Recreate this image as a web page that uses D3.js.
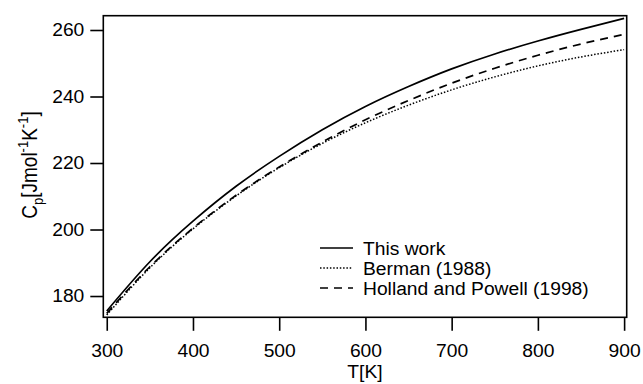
<!DOCTYPE html>
<html>
<head>
<meta charset="utf-8">
<script src="https://cdn.jsdelivr.net/npm/d3@7"></script>
<style>
    body { margin: 0; background: #fff; }
    text { font-family: "Liberation Sans", Arial, sans-serif; fill: #000; }
</style>
</head>
<body>
<script>
"use strict";

// data
const temps = [300, 350, 400, 450, 500, 550, 600, 650, 700, 750, 800, 850, 900];
const thisWork = [175.5, 190.3, 202.5, 213.0, 222.0, 230.0, 237.0, 243.0, 248.3, 252.8, 256.7, 260.2, 263.5];
const berman = [174.3, 188.5, 200.2, 210.1, 218.6, 225.9, 232.1, 237.4, 242.0, 245.9, 249.2, 251.9, 254.1];
const hollandPowell = [174.8, 188.8, 200.4, 210.3, 218.8, 226.3, 233.0, 238.8, 244.0, 248.5, 252.4, 255.8, 258.7];
const seriesNames = ['This work', 'Berman (1988)', 'Holland and Powell (1998)'];
const xTicks = [300, 400, 500, 600, 700, 800, 900];
const yTicks = [180, 200, 220, 240, 260];

// plot box
const box = {left: 103.3, right: 626.7, top: 15.7, bottom: 317.3};
const W = 643, H = 384;
const stretch = 1.07; // text in the figure is a bit wide

const svg = d3.select('body')
    .append('svg')
    .attr('width', W)
    .attr('height', H);

const x = d3.scaleLinear()
    .domain([296, 903])
    .range([box.left, box.right]);
const y = d3.scaleLinear()
    .domain([173.6, 264.3])
    .range([box.bottom, box.top]);

// axes, ticks outside the box
const xAxis = svg.append('g')
    .attr('transform', 'translate(0,' + box.bottom + ')')
    .call(d3.axisBottom(x).tickValues(xTicks).tickSize(13.5).tickPadding(13).tickFormat(d3.format('d')));
const yAxis = svg.append('g')
    .attr('transform', 'translate(' + box.left + ',0)')
    .call(d3.axisLeft(y).tickValues(yTicks).tickSize(13).tickPadding(6).tickFormat(d3.format('d')));

[xAxis, yAxis].forEach((g) => {
    g.select('.domain').remove();
    g.selectAll('line').attr('stroke', '#000').attr('stroke-width', 1.6);
    g.selectAll('text')
        .style('font-family', '"Liberation Sans", Arial, sans-serif')
        .style('font-size', '18px')
        .attr('fill', '#000')
        .attr('transform', 'scale(' + stretch + ',1)');
});
yAxis.selectAll('text').attr('x', -19 / stretch);

// frame
svg.append('rect')
    .attr('x', box.left)
    .attr('y', box.top)
    .attr('width', box.right - box.left)
    .attr('height', box.bottom - box.top)
    .attr('fill', 'none')
    .attr('stroke', '#000')
    .attr('stroke-width', 1.6);

// curves
const styles = [
    {vals: thisWork, dash: null, sw: 1.7},
    {vals: berman, dash: '1.5,1.8', sw: 1.5},
    {vals: hollandPowell, dash: '8,6', sw: 1.7}
];

const line = d3.line()
    .x((d) => x(d[0]))
    .y((d) => y(d[1]))
    .curve(d3.curveNatural);

styles.forEach((s) => {
    svg.append('path')
        .datum(temps.map((t, i) => [t, s.vals[i]]))
        .attr('d', line)
        .attr('fill', 'none')
        .attr('stroke', '#000')
        .attr('stroke-width', s.sw)
        .attr('stroke-dasharray', s.dash);
});

// legend
const legend = svg.append('g').attr('transform', 'translate(320,248)');
seriesNames.forEach((name, i) => {
    legend.append('line')
        .attr('x1', 0).attr('x2', 33)
        .attr('y1', i * 20).attr('y2', i * 20)
        .attr('stroke', '#000')
        .attr('stroke-width', styles[i].sw)
        .attr('stroke-dasharray', styles[i].dash);
    legend.append('text')
        .attr('transform', 'translate(43,' + (i * 20 + 6.5) + ') scale(' + stretch + ',1)')
        .style('font-size', '18px')
        .text(name);
});

// axis titles
svg.append('text')
    .attr('transform', 'translate(' + (box.left + box.right) / 2 + ',378) scale(' + stretch + ',1)')
    .attr('text-anchor', 'middle')
    .style('font-size', '18px')
    .text('T[K]');

const ylab = svg.append('text')
    .attr('transform', 'translate(37,165) rotate(-90) scale(1,1.12)')
    .attr('text-anchor', 'middle')
    .style('font-size', '19px');
ylab.append('tspan').text('C');
ylab.append('tspan').attr('dy', 5).style('font-size', '13px').text('p');
ylab.append('tspan').attr('dy', -5).text('[Jmol');
ylab.append('tspan').attr('dy', -8).style('font-size', '13px').text('-1');
ylab.append('tspan').attr('dy', 8).text('K');
ylab.append('tspan').attr('dy', -8).style('font-size', '13px').text('-1');
ylab.append('tspan').attr('dy', 8).text(']');
</script>
</body>
</html>
